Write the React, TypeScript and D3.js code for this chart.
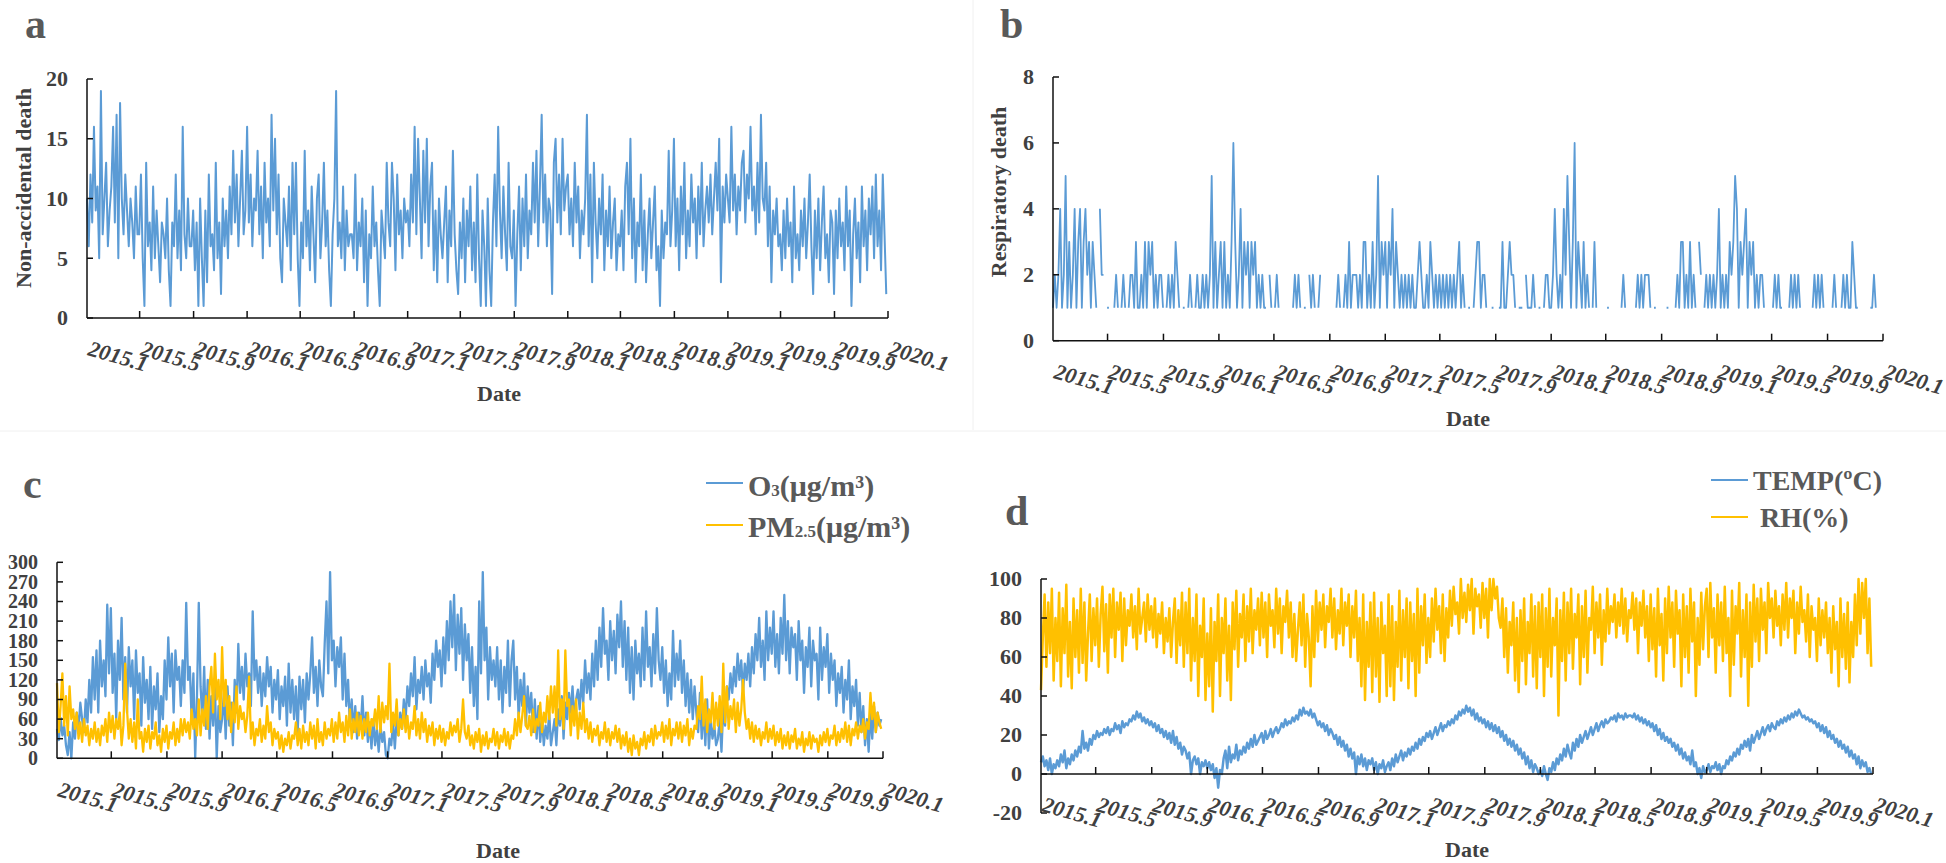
import React from "react";
import * as d3 from "d3";

// ---------------- DATA ----------------
const YEARS = [2015, 2016, 2017, 2018, 2019];
const X_TICK_FORMAT = "%Y.%-m";

// Panel a: non-accidental death (4-day samples per year)
const DEATH_2015 = [10,6,12,8,16,9,11,5,19,7,10,13,6,9,11,16,8,17,5,18,10,7,12,9,6,10,8,5,11,7,
  7,12,5,1,13,6,8,4,11,5,9,6,3,8,7,5,10,4,1,8,6,12,5,9,4,16,7,5,10,6,
  6,9,4,8,1,10,5,1,9,3,12,6,7,4,13,5,8,2,10,6,9,5,11,7,14,8,12,6,10,14,7,9];
const DEATH_2016 = [16,8,12,6,10,9,14,7,11,5,13,8,10,6,17,9,15,7,12,5,3,10,8,6,11,4,13,7,13,5,
  1,8,5,14,6,9,4,11,7,3,10,12,5,8,13,6,9,4,1,7,10,19,6,8,5,11,4,9,6,7,
  7,5,12,4,8,6,10,3,9,1,7,5,11,6,8,4,1,9,7,5,13,8,6,13,10,4,12,7,9,5,10,8];
const DEATH_2017 = [9,6,12,8,16,7,15,10,5,14,8,15,6,11,13,4,9,3,10,7,5,8,11,3,9,6,14,7,4,2,
  8,5,10,3,9,6,11,4,8,3,12,5,1,9,6,1,10,4,1,8,12,6,16,9,5,11,7,4,13,6,
  5,9,1,7,11,4,10,6,12,5,9,7,13,8,14,6,11,17,8,12,6,10,9,2,13,15,8,12,7,15,9,11];
const DEATH_2018 = [12,7,10,6,13,8,11,5,9,7,10,17,6,12,3,13,8,5,10,7,12,4,9,6,11,5,8,10,4,7,
  6,9,4,11,13,7,15,5,10,3,8,6,12,4,9,3,7,10,5,8,11,4,6,1,9,5,8,7,14,6,
  9,15,6,10,4,11,7,13,5,9,6,12,8,10,5,11,7,13,6,9,11,8,12,7,10,13,9,15,3,11,8,12];
const DEATH_2019 = [10,8,16,9,12,7,11,9,13,14,8,12,10,16,9,11,7,13,8,17,10,9,13,6,11,3,9,7,10,6,
  7,4,9,5,10,6,8,3,11,5,7,4,9,6,10,5,8,12,6,2,9,5,10,4,8,11,5,7,3,9,
  8,2,9,5,10,6,8,4,11,6,9,1,7,10,5,8,3,11,6,9,4,10,7,11,5,12,6,9,4,12,7,2];

// Panel b: respiratory death (null = no record)
const RESP_2015 = [1,2,1,2,4,1,2,5,1,3,1,2,4,1,3,4,1,3,4,2,3,1,3,2,1,null,4,2,2,null,
  1,1,null,null,1,2,1,null,1,2,1,null,1,2,2,1,3,1,1,2,1,3,1,3,2,3,1,2,1,2,
  2,1,null,1,2,1,2,1,3,2,1,null,1,1,null,1,2,1,null,1,2,1,1,2,1,2,1,2,5,1,3,1];
const RESP_2016 = [2,3,1,3,1,2,1,3,6,3,1,2,4,1,3,2,3,1,3,2,3,1,2,1,2,1,1,null,2,1,
  null,1,2,1,null,null,null,1,null,null,null,1,2,1,2,1,null,1,1,null,2,1,2,1,null,1,2,null,1,null,
  1,null,null,1,null,1,2,1,null,1,2,1,3,1,2,2,2,1,2,1,3,3,1,2,1,3,1,2,5,1,3,2];
const RESP_2017 = [3,1,3,2,4,1,3,2,1,2,1,2,1,2,1,2,1,1,2,3,2,1,1,2,1,3,2,1,2,1,
  2,1,2,1,2,1,2,1,2,1,2,3,1,2,1,null,1,1,null,1,2,3,3,1,2,2,1,null,null,1,
  1,null,null,1,1,3,1,1,2,3,2,2,1,null,1,1,1,null,2,1,1,1,2,1,null,1,1,null,1,2,2,1];
const RESP_2018 = [1,2,4,2,1,2,1,4,2,5,3,1,3,6,1,3,2,1,3,1,2,1,null,1,3,1,null,null,null,null,
  null,1,1,null,1,null,null,null,null,1,2,1,null,null,null,null,null,1,2,1,2,1,2,2,2,1,null,1,1,null,
  null,null,null,null,1,1,null,null,null,1,2,1,3,3,1,2,1,3,1,2,1,null,3,2,null,1,2,1,2,1,2,1];
const RESP_2019 = [2,4,1,2,1,2,1,3,2,3,5,4,1,3,2,3,4,1,3,2,3,1,2,1,2,2,1,null,null,1,
  null,1,2,1,2,1,1,null,1,null,1,2,1,2,1,2,1,null,null,1,null,1,null,1,2,1,2,1,2,1,
  null,1,null,null,1,2,1,null,null,1,2,1,2,1,1,3,2,1,1,null,1,null,null,null,null,1,1,2,1,null,null,null];

// Panel c: O3 and PM2.5 (µg/m³)
const O3_2015 = [45,28,62,35,50,20,5,40,0,55,30,70,45,85,60,40,90,55,120,70,
  155,90,165,70,180,110,150,95,235,130,230,100,160,60,180,120,215,90,155,70,
  170,110,150,60,165,100,130,50,155,85,120,60,140,45,110,75,130,40,95,60,
  150,90,185,110,160,70,165,120,140,80,150,100,238,120,140,60,130,0,95,238,
  110,60,140,45,120,30,95,50,110,0,80,40];
const O3_2016 = [60,100,30,110,50,85,20,120,70,175,100,140,90,160,110,130,80,225,120,150,
  100,140,80,130,95,155,110,140,70,120,90,135,60,110,80,125,50,145,70,120,
  60,110,40,125,75,120,55,130,90,130,185,100,140,80,150,110,95,175,240,130,
  285,150,180,110,170,140,185,90,160,80,120,50,90,40,80,30,70,45,95,35,
  70,25,55,15,60,20,45,10,50,25,40,5];
const O3_2017 = [0,30,20,55,15,60,35,70,45,90,60,110,80,130,95,155,75,120,100,140,
  90,150,110,130,85,160,120,180,140,165,110,185,130,210,150,240,170,250,135,220,
  160,230,120,205,150,190,100,170,80,140,60,240,130,285,150,200,90,170,120,150,
  110,170,90,150,70,140,100,180,80,150,180,90,140,60,120,80,130,50,110,70,
  100,40,90,30,80,25,60,20,50,30,70,20];
const O3_2018 = [40,60,20,75,50,95,30,85,60,100,70,110,60,90,105,75,120,85,150,100,
  130,90,160,110,180,120,200,140,230,160,180,120,210,150,195,130,220,170,240,140,
  210,120,200,100,170,90,180,130,160,110,200,120,225,140,170,110,190,130,230,150,
  120,170,100,150,80,130,90,195,110,160,120,180,100,150,80,130,70,120,60,110,
  70,40,100,30,80,20,90,15,60,30,50,20];
const O3_2019 = [30,60,10,80,50,110,90,130,100,140,110,160,120,150,100,145,120,160,110,170,
  130,190,150,215,140,180,120,225,150,200,160,225,140,190,130,215,160,250,150,210,
  130,200,170,190,120,210,150,180,100,170,140,200,110,180,150,160,90,200,120,170,
  140,190,100,160,120,150,80,130,100,140,70,120,90,150,60,110,80,120,50,100,
  40,80,20,60,10,70,30,80,40,70,50,60];

const PM25_2015 = [115,40,80,130,50,95,35,110,60,75,45,70,30,55,25,60,35,50,20,45,
  30,55,25,45,20,50,35,60,25,70,40,65,30,60,45,70,20,50,145,75,
  30,60,25,55,15,90,30,40,10,45,25,50,15,40,30,55,20,35,10,45,
  25,50,15,40,30,55,20,45,25,60,35,60,40,55,30,75,45,60,35,90,
  35,75,50,95,45,110,140,70,160,90,120,60];
const PM25_2016 = [170,80,120,60,95,40,85,55,110,45,80,60,70,40,65,125,30,55,20,45,
  35,60,25,50,30,80,40,55,20,45,30,40,15,35,10,30,20,40,15,35,
  30,55,20,45,15,50,25,40,20,55,30,50,15,60,25,40,20,55,30,45,
  35,60,25,55,30,70,40,55,25,65,35,75,30,60,40,70,35,65,30,60,
  40,70,35,60,50,75,45,95,40,85,55,80];
const PM25_2017 = [60,145,40,70,50,90,35,60,45,75,40,65,30,55,45,80,35,60,30,70,
  40,60,25,50,35,55,20,45,30,50,25,45,20,40,30,55,35,50,40,60,
  25,45,90,40,30,50,20,35,15,40,25,45,10,35,20,40,15,30,25,45,
  20,40,15,35,25,45,20,40,15,35,30,60,35,70,40,65,95,50,45,65,
  35,75,40,60,50,85,40,70,55,95,60,110];
const PM25_2018 = [70,110,50,165,60,90,45,165,80,90,35,80,50,90,30,70,45,85,40,60,
  30,55,25,45,35,50,20,40,30,55,25,45,20,40,30,50,25,45,15,35,
  20,40,10,30,5,35,15,25,5,30,20,40,15,35,25,45,20,50,30,40,
  35,55,25,50,30,60,20,45,35,55,30,55,25,50,35,60,20,45,30,50,
  45,80,60,125,50,90,40,75,55,100,45,85];
const PM25_2019 = [50,95,40,145,55,110,45,80,60,90,40,85,50,75,120,70,45,60,30,55,
  25,50,30,45,20,40,30,55,25,45,30,50,20,40,25,45,15,35,20,40,
  15,35,25,45,15,30,20,40,10,30,20,40,15,35,25,30,10,35,20,40,
  25,45,20,35,30,50,20,40,25,45,30,55,25,50,20,45,35,55,30,50,
  40,60,30,55,45,100,60,85,40,70,55,45];

// Panel d: temperature (ºC) and relative humidity (%)
const TEMP_2015 = [6,9,4,7,2,8,0,5,3,7,4,10,6,12,3,8,5,10,7,12,
  9,14,11,22,13,16,12,18,15,20,18,22,19,21,20,23,21,24,20,23,
  22,26,23,25,21,27,24,26,25,28,27,30,28,32,29,31,27,29,26,28,
  25,27,24,26,22,25,21,23,19,22,18,21,16,22,15,19,13,16,10,14,
  12,8,11,0,7,9,5,8,0,6,4,7];
const TEMP_2016 = [3,6,2,5,-2,3,-7,2,0,8,12,3,14,6,10,8,15,7,12,10,
  14,11,16,13,18,14,20,15,17,19,21,16,22,18,20,23,19,22,24,21,
  23,26,24,28,25,27,26,29,27,30,28,33,30,34,31,32,30,33,29,31,
  28,25,27,24,26,22,25,20,23,21,18,20,15,19,14,17,12,15,9,13,
  8,11,0,9,5,10,4,8,2,7,5,8];
const TEMP_2017 = [2,6,0,5,3,7,1,4,6,2,8,4,10,6,9,12,7,11,9,13,
  10,14,12,16,13,18,15,19,17,21,19,22,18,21,24,20,23,26,22,25,
  24,27,25,28,26,30,28,32,30,33,31,35,32,34,30,33,28,31,27,29,
  26,28,24,27,23,26,22,25,21,24,19,22,17,20,15,18,14,17,12,15,
  10,13,8,11,5,9,3,7,1,5,3,0];
const TEMP_2018 = [2,-1,4,0,-3,3,1,6,2,8,5,10,7,13,9,15,11,8,16,12,
  18,14,20,16,19,22,18,21,24,20,23,26,22,25,27,24,28,26,27,29,
  28,30,27,31,29,30,28,31,29,30,30,29,31,28,30,27,29,26,28,25,
  27,24,26,22,25,20,23,18,21,17,19,16,18,14,16,12,15,10,13,8,
  11,7,9,5,12,4,6,0,3,-2,4,1];
const TEMP_2019 = [2,5,1,4,3,6,2,5,0,4,3,7,5,9,7,11,9,13,10,15,
  13,17,14,18,12,20,16,19,22,18,21,24,20,23,25,22,26,24,23,27,
  25,28,26,29,27,30,28,31,29,32,30,33,31,29,30,28,29,27,28,26,
  27,24,26,22,25,21,24,19,22,18,20,16,18,14,17,13,15,11,14,9,
  12,8,10,5,9,3,7,4,6,1,3,0];

const RH_2015 = [43,70,92,55,88,62,95,48,80,58,93,45,85,62,97,50,78,44,90,60,
  84,52,95,57,88,48,72,92,58,85,66,90,55,82,96,63,87,52,92,70,
  95,60,88,74,93,58,90,66,84,76,92,70,86,64,95,72,80,88,68,92,
  74,86,70,90,65,82,72,88,62,80,68,85,60,78,90,57,84,66,93,55,
  88,62,95,48,80,58,92,40,76,60,90,38];
const RH_2016 = [72,45,85,32,78,58,92,40,80,62,90,48,76,38,88,64,94,55,82,70,
  92,58,86,68,95,62,84,74,90,66,93,70,88,60,92,76,84,65,95,72,
  90,62,86,78,94,70,88,60,82,58,74,88,66,92,55,82,70,45,86,60,
  94,68,88,74,92,65,86,78,95,70,90,64,84,72,95,66,88,76,92,60,
  86,70,94,58,80,45,92,38,78,55,88,42];
const RH_2017 = [93,50,80,37,88,62,76,40,92,45,86,38,78,55,94,48,84,60,90,44,
  88,58,82,40,95,52,86,66,92,57,80,60,90,68,95,74,86,62,92,58,
  85,70,94,76,96,82,88,72,100,80,93,78,97,84,100,72,95,86,92,75,
  98,80,95,70,100,84,100,90,96,80,75,90,60,85,52,78,66,88,48,80,
  42,84,58,90,46,78,62,92,50,86,44,88];
const RH_2018 = [60,92,40,85,55,95,50,80,66,90,30,84,58,93,48,88,62,95,54,82,
  70,92,46,86,60,94,52,80,74,96,62,88,70,92,56,84,68,95,72,86,
  78,92,70,88,76,95,72,90,68,84,80,93,74,90,62,88,76,94,70,86,
  58,92,64,85,50,95,66,82,48,90,62,96,70,88,55,94,72,84,45,92,
  60,86,52,95,68,88,40,80,56,93,64,86];
const RH_2019 = [95,60,98,70,85,52,92,66,88,58,96,62,80,40,94,56,86,72,98,50,
  84,60,92,35,88,55,97,68,90,58,95,74,88,62,98,80,90,70,94,76,
  86,66,92,74,98,70,90,80,94,62,88,72,96,78,84,68,92,60,86,74,
  80,58,90,66,84,70,88,62,80,52,86,64,78,45,90,60,82,54,88,47,
  78,60,92,66,100,72,98,80,100,62,90,55];

const Y_TICKS_A = [0, 5, 10, 15, 20];
const Y_TICKS_B = [0, 2, 4, 6, 8];
const Y_TICKS_C = [0, 30, 60, 90, 120, 150, 180, 210, 240, 270, 300];
const Y_TICKS_D = [-20, 0, 20, 40, 60, 80, 100];

// ---------------- HELPERS ----------------
type Pt = { t: number; v: number | null };

function buildSeries(chunks: (number | null)[][]): Pt[] {
  const pts: Pt[] = [];
  chunks.forEach((arr, k) => {
    const s = Date.UTC(YEARS[k], 0, 1);
    const e = Date.UTC(YEARS[k] + 1, 0, 1);
    const step = (e - s) / arr.length;
    arr.forEach((v, i) => pts.push({ t: s + i * step, v }));
  });
  return pts;
}

const DEATH = buildSeries([DEATH_2015, DEATH_2016, DEATH_2017, DEATH_2018, DEATH_2019]);
const RESP = buildSeries([RESP_2015, RESP_2016, RESP_2017, RESP_2018, RESP_2019]);
const O3 = buildSeries([O3_2015, O3_2016, O3_2017, O3_2018, O3_2019]);
const PM25 = buildSeries([PM25_2015, PM25_2016, PM25_2017, PM25_2018, PM25_2019]);
const TEMP = buildSeries([TEMP_2015, TEMP_2016, TEMP_2017, TEMP_2018, TEMP_2019]);
const RH = buildSeries([RH_2015, RH_2016, RH_2017, RH_2018, RH_2019]);

const T0 = new Date(Date.UTC(2015, 0, 1));
const T1 = new Date(Date.UTC(2020, 0, 1));
const FONT = "'Liberation Serif','Times New Roman',serif";
const BLUE = "#5B9BD5";
const GOLD = "#FFC000";
const TXT = "#404040";
const TITLE = "#595959";

type Series = { data: Pt[]; color: string; width: number };
type PanelCfg = {
  key: string;
  x0: number; x1: number; yBottom: number; yTop: number;
  domain: [number, number]; ticks: number[]; tickFont: number;
  labelY: number; dateX: number; dateY: number;
  titleX: number; titleY: number;
  yTitle?: { text: string; x: number; y: number };
  series: Series[];
};

const PANELS: PanelCfg[] = [
  {
    key: "a", x0: 87, x1: 888, yBottom: 318, yTop: 79, domain: [0, 20], ticks: Y_TICKS_A, tickFont: 22,
    labelY: 355, dateX: 499, dateY: 401, titleX: 25, titleY: 38,
    yTitle: { text: "Non-accidental death", x: 31, y: 188 },
    series: [{ data: DEATH, color: BLUE, width: 2 }],
  },
  {
    key: "b", x0: 1053, x1: 1883, yBottom: 340.7, yTop: 77, domain: [0, 8], ticks: Y_TICKS_B, tickFont: 22,
    labelY: 378, dateX: 1468, dateY: 426, titleX: 1000, titleY: 38,
    yTitle: { text: "Respiratory death", x: 1006, y: 192 },
    series: [{ data: RESP, color: BLUE, width: 1.8 }],
  },
  {
    key: "c", x0: 57, x1: 883, yBottom: 758.3, yTop: 562.3, domain: [0, 300], ticks: Y_TICKS_C, tickFont: 20,
    labelY: 796, dateX: 498, dateY: 858, titleX: 23, titleY: 498,
    series: [
      { data: O3, color: BLUE, width: 2.3 },
      { data: PM25, color: GOLD, width: 2.3 },
    ],
  },
  {
    key: "d", x0: 1041, x1: 1873, yBottom: 813, yTop: 579, domain: [-20, 100], ticks: Y_TICKS_D, tickFont: 22,
    labelY: 811, dateX: 1467, dateY: 857, titleX: 1005, titleY: 525,
    series: [
      { data: TEMP, color: BLUE, width: 2.5 },
      { data: RH, color: GOLD, width: 2.5 },
    ],
  },
];

function Panel({ p }: { p: PanelCfg }) {
  const x = d3.scaleUtc().domain([T0, T1]).range([p.x0, p.x1]);
  const y = d3.scaleLinear().domain(p.domain).range([p.yBottom, p.yTop]);
  const axisY = y(0);
  const xTicks = x.ticks(d3.utcMonth.every(4) as any);
  const fmt = d3.utcFormat(X_TICK_FORMAT);
  const line = d3
    .line<Pt>()
    .defined((d) => d.v != null)
    .x((d) => x(d.t))
    .y((d) => y(d.v as number));

  return (
    <g>
      {/* panel letter */}
      <text x={p.titleX} y={p.titleY} fontSize={42} fontWeight="bold" fill={TITLE} fontFamily={FONT}>
        {p.key}
      </text>
      {/* series */}
      {p.series.map((s, i) => (
        <path key={i} d={line(s.data) || ""} fill="none" stroke={s.color} strokeWidth={s.width} strokeLinejoin="round" />
      ))}
      {/* y axis */}
      <line x1={p.x0} x2={p.x0} y1={y(p.domain[0])} y2={y(p.domain[1])} stroke="#111" strokeWidth={1.5} />
      {p.ticks.map((t) => (
        <g key={t}>
          <line x1={p.x0} x2={p.x0 + 6} y1={y(t)} y2={y(t)} stroke="#111" strokeWidth={1.5} />
          <text
            x={p.x0 - 19}
            y={y(t) + p.tickFont * 0.34}
            textAnchor="end"
            fontSize={p.tickFont}
            fontWeight="bold"
            fill={TXT}
            fontFamily={FONT}
          >
            {t}
          </text>
        </g>
      ))}
      {/* x axis */}
      <line x1={p.x0} x2={p.x1} y1={axisY} y2={axisY} stroke="#111" strokeWidth={1.5} />
      {xTicks.map((t, i) => (
        <g key={i}>
          {i > 0 && <line x1={x(t)} x2={x(t)} y1={axisY} y2={axisY - 7} stroke="#111" strokeWidth={1.5} />}
          <text
            transform={`translate(${x(t)},${p.labelY}) rotate(16)`}
            fontSize={22}
            fontWeight="bold"
            fontStyle="italic"
            fill={TXT}
            fontFamily={FONT}
          >
            {fmt(t)}
          </text>
        </g>
      ))}
      <text x={p.dateX} y={p.dateY} textAnchor="middle" fontSize={22} fontWeight="bold" fill={TXT} fontFamily={FONT}>
        Date
      </text>
      {p.yTitle && (
        <text
          transform={`translate(${p.yTitle.x},${p.yTitle.y}) rotate(-90)`}
          textAnchor="middle"
          fontSize={22}
          fontWeight="bold"
          fill={TXT}
          fontFamily={FONT}
        >
          {p.yTitle.text}
        </text>
      )}
    </g>
  );
}

function Legends() {
  return (
    <g fontFamily={FONT} fontWeight="bold" fill={TITLE}>
      <line x1={706} x2={743} y1={483} y2={483} stroke={BLUE} strokeWidth={2} />
      <text x={748} y={496} fontSize={30}>
        O<tspan fontSize={17}>3</tspan>(μg/m³)
      </text>
      <line x1={706} x2={743} y1={525} y2={525} stroke={GOLD} strokeWidth={2} />
      <text x={748} y={537} fontSize={30}>
        PM<tspan fontSize={17}>2.5</tspan>(μg/m³)
      </text>
      <line x1={1711} x2={1748} y1={480} y2={480} stroke={BLUE} strokeWidth={2} />
      <text x={1753} y={490} fontSize={28}>
        TEMP(ºC)
      </text>
      <line x1={1711} x2={1748} y1={517} y2={517} stroke={GOLD} strokeWidth={2} />
      <text x={1760} y={527} fontSize={28}>
        RH(%)
      </text>
    </g>
  );
}

export default function App() {
  return (
    <svg
      width={1946}
      height={863}
      viewBox="0 0 1946 863"
      style={{ position: "absolute", left: 0, top: 0, background: "#fff" }}
    >
      <rect x={0} y={0} width={1946} height={863} fill="#fff" />
      <line x1={973} x2={973} y1={0} y2={430} stroke="#f0f0f0" strokeWidth={1} />
      <line x1={0} x2={1946} y1={431} y2={431} stroke="#f0f0f0" strokeWidth={1} />
      {PANELS.map((p) => (
        <Panel key={p.key} p={p} />
      ))}
      <Legends />
    </svg>
  );
}
